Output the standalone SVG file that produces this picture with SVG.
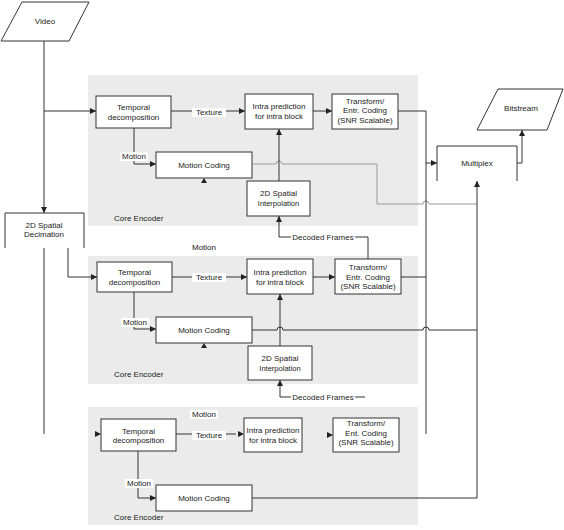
<svg xmlns="http://www.w3.org/2000/svg" width="564" height="530" viewBox="0 0 564 530">
<style>
.panel{fill:#ebebeb;stroke:none}
.box{fill:#fff;stroke:#333;stroke-width:1}
.open{fill:none;stroke:#333;stroke-width:1}
.t{font-family:"Liberation Sans",Arial,sans-serif;font-size:8px;fill:#222;text-anchor:middle}
.tl{font-family:"Liberation Sans",Arial,sans-serif;font-size:8px;fill:#222;text-anchor:start}
.c{fill:none;stroke:#333;stroke-width:1}
.cl{fill:none;stroke:#999;stroke-width:1}
.bg{fill:#fff}
.ah{fill:#222}
</style>
<defs>
<marker id="arr" viewBox="0 0 6 6" refX="6" refY="3" markerWidth="6" markerHeight="6" markerUnits="userSpaceOnUse" orient="auto">
<path d="M0,0 L6,3 L0,6 z" fill="#222"/>
</marker>
</defs>

<rect class="panel" x="88" y="75" width="330" height="151"/>
<rect class="panel" x="88" y="256" width="330" height="128"/>
<rect class="panel" x="88" y="407" width="330" height="118"/>

<g id="connectors">
<path class="c" d="M44,41 V213" marker-end="url(#arr)"/>
<path class="c" d="M44,111 H96" marker-end="url(#arr)"/>
<path class="c" d="M171,111 H245" marker-end="url(#arr)"/>
<path class="c" d="M313,111 H332" marker-end="url(#arr)"/>
<path class="c" d="M398,111 H426 V163 H437" marker-end="url(#arr)"/>
<path class="c" d="M134,128 V164 H156" marker-end="url(#arr)"/>
<path class="cl" d="M252,164 H276 A3,3 0 0 1 282,164 H377 V204 H423 A3,3 0 0 1 429,204 H477"/>
<path class="c" d="M279,181 V129" marker-end="url(#arr)"/>
<path class="c" d="M368,259 V237 H279 V216" marker-end="url(#arr)"/>
<polygon class="ah" points="201,183 207,183 204,178"/>

<path class="c" d="M68,248 V277 H97" marker-end="url(#arr)"/>
<path class="c" d="M44,248 V434"/>
<path class="c" d="M172,277 H247" marker-end="url(#arr)"/>
<path class="c" d="M313,277 H335" marker-end="url(#arr)"/>
<path class="c" d="M401,277 H426"/>
<path class="c" d="M426,434 V163"/>
<path class="c" d="M134,292 V329 H156" marker-end="url(#arr)"/>
<path class="c" d="M252,330 H277 A3,3 0 0 1 283,330 H423 A3,3 0 0 1 429,330 H477"/>
<path class="c" d="M280,346 V294" marker-end="url(#arr)"/>
<path class="c" d="M365,397 H280 V380" marker-end="url(#arr)"/>
<polygon class="ah" points="201,348 207,348 204,343"/>

<polygon class="ah" points="95,431 101,434 95,437"/>
<path class="c" d="M176,434 H236"/>
<polygon class="ah" points="238,431 244,434 238,437"/>
<polygon class="ah" points="327,432 333,435 327,438"/>
<path class="c" d="M138,451 V498 H156" marker-end="url(#arr)"/>
<path class="c" d="M252,498 H477 V181" marker-end="url(#arr)"/>
<path class="c" d="M517,163 H522 V130" marker-end="url(#arr)"/>
</g>

<g id="labels">
<rect class="bg" x="192" y="108" width="34" height="9"/>
<text class="t" x="209" y="115">Texture</text>
<rect class="bg" x="120" y="152" width="28" height="9"/>
<text class="t" x="134" y="159">Motion</text>
<rect class="bg" x="291" y="233" width="64" height="9"/>
<text class="t" x="323" y="240">Decoded Frames</text>
<text class="tl" x="114" y="221">Core Encoder</text>
<text class="t" x="204" y="250">Motion</text>

<rect class="bg" x="192" y="273" width="34" height="9"/>
<text class="t" x="209" y="280">Texture</text>
<rect class="bg" x="121" y="318" width="28" height="9"/>
<text class="t" x="135" y="325">Motion</text>
<rect class="bg" x="291" y="393" width="64" height="9"/>
<text class="t" x="323" y="400">Decoded Frames</text>
<text class="tl" x="114" y="377">Core Encoder</text>

<rect class="bg" x="190" y="410" width="28" height="9"/>
<text class="t" x="204" y="417">Motion</text>
<rect class="bg" x="192" y="431" width="34" height="9"/>
<text class="t" x="209" y="438">Texture</text>
<rect class="bg" x="125" y="479" width="28" height="9"/>
<text class="t" x="139" y="486">Motion</text>
<text class="tl" x="114" y="520">Core Encoder</text>
</g>

<g id="video">
<polygon class="box" points="22,2 89,2 69,41 1,41"/>
<text class="t" x="45" y="24">Video</text>
</g>
<g id="bitstream">
<polygon class="box" points="498,89 563,89 547,130 477,130"/>
<text class="t" x="521" y="111">Bitstream</text>
</g>
<g id="multiplex">
<path class="open" d="M437,181 V146 H517 V181"/>
<text class="t" x="477" y="166">Multiplex</text>
</g>
<g id="decimation">
<path class="open" d="M5,248 V213 H84 V248" style="fill:#fff"/>
<text class="t" x="44" y="228">2D Spatial</text>
<text class="t" x="44" y="237">Decimation</text>
</g>

<g id="temporal1">
<rect class="box" x="96" y="96" width="75" height="32"/>
<text class="t" x="133.5" y="110">Temporal</text>
<text class="t" x="133.5" y="120">decomposition</text>
</g>
<g id="intra1">
<rect class="box" x="245" y="94" width="68" height="35"/>
<text class="t" x="279" y="109">Intra prediction</text>
<text class="t" x="279" y="118.5">for intra block</text>
</g>
<g id="transform1">
<rect class="box" x="332" y="94" width="66" height="35"/>
<text class="t" x="365" y="103.5">Transform/</text>
<text class="t" x="365" y="113">Entr. Coding</text>
<text class="t" x="365" y="122.5">(SNR Scalable)</text>
</g>
<g id="motioncoding1">
<rect class="box" x="156" y="152" width="96" height="26"/>
<text class="t" x="204" y="168">Motion Coding</text>
</g>
<g id="interp1">
<rect class="box" x="247" y="181" width="63" height="35"/>
<text class="t" x="278.5" y="196">2D Spatial</text>
<text class="t" x="278.5" y="205.5" style="font-size:7.5px">Interpolation</text>
</g>

<g id="temporal2">
<rect class="box" x="97" y="262" width="75" height="30"/>
<text class="t" x="134.5" y="275">Temporal</text>
<text class="t" x="134.5" y="284.5">decomposition</text>
</g>
<g id="intra2">
<rect class="box" x="247" y="259" width="66" height="35"/>
<text class="t" x="280" y="275">Intra prediction</text>
<text class="t" x="280" y="284.5">for intra block</text>
</g>
<g id="transform2">
<rect class="box" x="335" y="259" width="66" height="35"/>
<text class="t" x="368" y="270">Transform/</text>
<text class="t" x="368" y="279.5">Entr. Coding</text>
<text class="t" x="368" y="289">(SNR Scalable)</text>
</g>
<g id="motioncoding2">
<rect class="box" x="156" y="317" width="96" height="26"/>
<text class="t" x="204" y="333">Motion Coding</text>
</g>
<g id="interp2">
<rect class="box" x="248" y="346" width="64" height="34"/>
<text class="t" x="280" y="361">2D Spatial</text>
<text class="t" x="280" y="370.5" style="font-size:7.5px">Interpolation</text>
</g>

<g id="temporal3">
<rect class="box" x="101" y="419" width="75" height="32"/>
<text class="t" x="138.5" y="433.5">Temporal</text>
<text class="t" x="138.5" y="443">decomposition</text>
</g>
<g id="intra3">
<rect class="box" x="244" y="418" width="58" height="34"/>
<text class="t" x="273" y="433">Intra prediction</text>
<text class="t" x="273" y="442.5">for intra block</text>
</g>
<g id="transform3">
<rect class="box" x="333" y="418" width="66" height="34"/>
<text class="t" x="366" y="426">Transform/</text>
<text class="t" x="366" y="435.5">Ent. Coding</text>
<text class="t" x="366" y="445">(SNR Scalable)</text>
</g>
<g id="motioncoding3">
<rect class="box" x="156" y="485" width="96" height="26"/>
<text class="t" x="204" y="501">Motion Coding</text>
</g>
</svg>
